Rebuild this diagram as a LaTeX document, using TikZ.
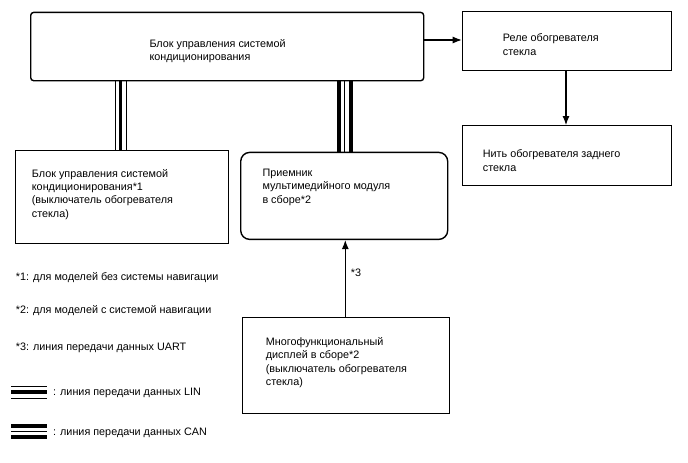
\documentclass[tikz,border=0pt]{standalone}
\usepackage{fontspec}
\setmainfont{Liberation Sans}
\usetikzlibrary{arrows.meta,calc}
\begin{document}
\begin{tikzpicture}[x=1pt,y=-1pt,
  box/.style={draw,line width=1.4pt,inner sep=0pt},
  txt/.style={anchor=north west,inner sep=0pt,align=left,font=\fontsize{10.8}{13.4}\selectfont},
  arr/.style={line width=1.1pt,-{Latex[length=9pt,width=7pt]}},
  thinbus/.style={line width=1pt},
  thickbus/.style={line width=3.8pt}]
\useasboundingbox (0,0) rectangle (688,463);
\fill[white] (0,0) rectangle (688,463);
% boxes
\node[box,rounded corners=3pt,minimum width=393pt,minimum height=68.3pt,anchor=north west] (top) at (30,11.7) {};
\node[box,minimum width=209pt,minimum height=59.3pt,anchor=north west] (relay) at (461.7,10.7) {};
\node[box,minimum width=209pt,minimum height=60pt,anchor=north west] (wire) at (461.7,125) {};
\node[box,minimum width=213pt,minimum height=92.7pt,anchor=north west] (ctrl) at (15,150) {};
\node[box,rounded corners=9pt,minimum width=207pt,minimum height=87pt,anchor=north west] (recv) at (240,151.7) {};
\node[box,minimum width=207.3pt,minimum height=96pt,anchor=north west] (disp) at (241.7,316.7) {};
% texts
\node[txt] (ttop) at (149.3,38.8) {Блок управления системой\\кондиционирования};
\node[txt] (trelay) at (502.7,33.8) {Реле обогревателя\\стекла};
\node[txt] (twire) at (482.7,149.8) {Нить обогревателя заднего\\стекла};
\node[txt] (tctrl) at (31.7,168.8) {Блок управления системой\\кондиционирования*1\\(выключатель обогревателя\\стекла)};
\node[txt] (trecv) at (262.3,168.8) {Приемник\\мультимедийного модуля\\в сборе*2};
\node[txt] (tdisp) at (265.7,337.2) {Многофункциональный\\дисплей в сборе*2\\(выключатель обогревателя\\стекла)};
\node[txt] (n1) at (15.7,272.2) {*1: для моделей без системы навигации};
\node[txt] (n2) at (15.7,305.5) {*2: для моделей с системой навигации};
\node[txt] (n3) at (15.7,342.8) {*3: линия передачи данных UART};
\node[txt] (l3) at (350.7,268.5) {*3};
% arrows
\draw[arr] (top.east |- 0,40) coordinate (a1) -- (relay.west |- a1);
\draw[arr] (relay.south -| 566,0) coordinate (a2) -- (wire.north -| a2);
\draw[arr] (disp.north -| 345.3,0) coordinate (a3) -- (recv.south -| a3);
% LIN bus
\coordinate (lA) at (115.2,0);
\coordinate (lB) at (120.5,0);
\coordinate (lC) at (126.5,0);
\draw[thinbus] (top.south -| lA) -- (ctrl.north -| lA);
\draw[thickbus] (top.south -| lB) -- (ctrl.north -| lB);
\draw[thinbus] (top.south -| lC) -- (ctrl.north -| lC);
% CAN bus
\coordinate (cA) at (339.3,0);
\coordinate (cB) at (344.8,0);
\coordinate (cC) at (351.3,0);
\draw[thickbus] (top.south -| cA) -- (recv.north -| cA);
\draw[thinbus] (top.south -| cB) -- (recv.north -| cB);
\draw[thickbus] (top.south -| cC) -- (recv.north -| cC);
% legend
\coordinate (g1a) at (11,386); \coordinate (g1b) at (46.5,386);
\draw[thinbus] (g1a) -- (g1b);
\draw[thickbus] ($(g1a)+(0,6.2)$) -- ($(g1b)+(0,6.2)$);
\draw[thinbus] ($(g1a)+(0,12)$) -- ($(g1b)+(0,12)$);
\node[txt] (glin) at (53,388) {: линия передачи данных LIN};
\coordinate (g2a) at (11,426); \coordinate (g2b) at (46.5,426);
\draw[thickbus] (g2a) -- (g2b);
\draw[thinbus] ($(g2a)+(0,5.5)$) -- ($(g2b)+(0,5.5)$);
\draw[thickbus] ($(g2a)+(0,11)$) -- ($(g2b)+(0,11)$);
\node[txt] (gcan) at (53,427.5) {: линия передачи данных CAN};
\end{tikzpicture}
\end{document}
